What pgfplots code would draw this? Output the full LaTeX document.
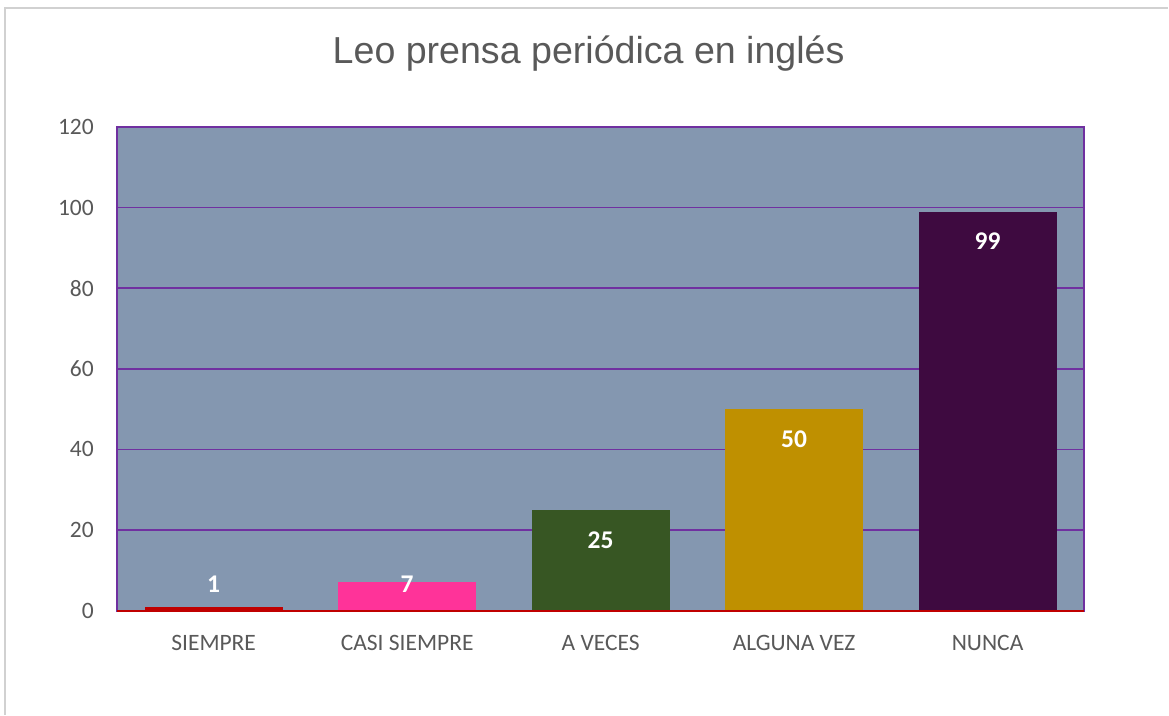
\documentclass[border=0pt]{standalone}
\usepackage{pgfplots}
\pgfplotsset{compat=1.18}
\usepackage{fontspec}
\setmainfont{Carlito}
\newfontfamily\titlefont{Liberation Sans}
\definecolor{plotbg}{HTML}{8497B0}
\definecolor{gridpurple}{HTML}{7030A0}
\definecolor{axisred}{HTML}{C00000}
\definecolor{labelgray}{HTML}{595959}
\definecolor{cA}{HTML}{C00000}
\definecolor{cB}{HTML}{FF3399}
\definecolor{cC}{HTML}{375623}
\definecolor{cD}{HTML}{BF9000}
\definecolor{cE}{HTML}{3E0A40}
\begin{document}
\begin{tikzpicture}[x=1pt,y=1pt]
\shade[top color=white, middle color=black!12, bottom color=white] (0,0) rectangle (1169,715);
\draw[black!18, line width=1.5pt] (5,0) -- (5,707) -- (1169,707);
\node[font=\titlefont\fontsize{37.6}{45}\selectfont, text=labelgray] at (589,661) {Leo prensa periódica en inglés};
\begin{axis}[
  at={(117pt,104pt)}, anchor=south west,
  scale only axis, width=968pt, height=484pt,
  xmin=-0.5, xmax=4.5, ymin=0, ymax=120,
  ytick={0,20,...,120},
  xtick={0,1,2,3,4},
  xticklabels={SIEMPRE,CASI SIEMPRE,A VECES,ALGUNA VEZ,NUNCA},
  axis background/.style={fill=plotbg},
  ymajorgrids,
  grid style={gridpurple, line width=1.6pt},
  axis line style={gridpurple, line width=1.8pt},
  major tick length=0pt,
  ticklabel style={font=\fontsize{23.5}{28}\selectfont, text=labelgray},
  /pgf/number format/assume math mode=true,
  yticklabel style={anchor=east, inner sep=0pt, xshift=-23pt},
  xticklabel style={anchor=center, inner sep=0pt, yshift=-32pt},
  ybar, bar width=138pt, bar shift=0pt,
  nodes near coords,
  nodes near coords style={font=\bfseries\fontsize{25.5}{30}\selectfont, text=white, anchor=center},
  clip=false,
]
\addplot[fill=cA, draw=none, nodes near coords style={yshift=22pt}] coordinates {(0,1)};
\addplot[fill=cB, draw=none, nodes near coords style={yshift=-2pt}] coordinates {(1,7)};
\addplot[fill=cC, draw=none, nodes near coords style={yshift=-30pt}] coordinates {(2,25)};
\addplot[fill=cD, draw=none, nodes near coords style={yshift=-30pt}] coordinates {(3,50)};
\addplot[fill=cE, draw=none, nodes near coords style={yshift=-30pt}] coordinates {(4,99)};
\draw[axisred, line width=1.8pt] (rel axis cs:0,0) -- (rel axis cs:1,0);
\end{axis}
\end{tikzpicture}
\end{document}
